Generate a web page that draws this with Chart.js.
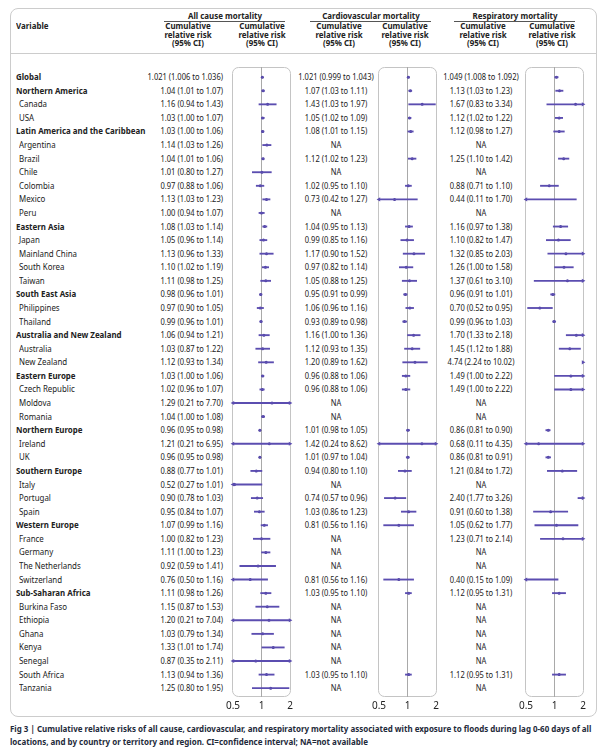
<!DOCTYPE html>
<html>
<head>
<meta charset="utf-8">
<script src="https://cdn.jsdelivr.net/npm/chart.js@4/dist/chart.umd.min.js"></script>
<style>
  body { margin: 0; background: #fff; }
  #page { position: relative; width: 602px; height: 749px; overflow: hidden;
          font-family: "Noto Sans", sans-serif; color: #222; }
  .abs { position: absolute; white-space: nowrap; }
  .row { font-size: 9.2px; line-height: 12px; height: 12px; }
  .hd { font-weight: bold; font-size: 9px; line-height: 8.6px; text-align: center;
        transform: scaleX(0.88); transform-origin: center; }
  .rule { position: absolute; height: 0; border-top: 1px solid #555; }
  canvas { position: absolute; }
</style>
</head>
<body>
<div id="page">
  <div class="abs" style="left:10px;top:8px;width:585px;height:707px;border:1px solid #ccc;border-radius:8px;"></div>
  <div class="abs" style="left:11px;top:53px;width:585px;height:0;border-top:1px solid #ccc;"></div>

  <div class="abs hd" style="left:16px;top:22px;text-align:left;transform-origin:left;">Variable</div>

  <div class="abs hd" style="left:164px;top:12px;width:122px;">All cause mortality</div>
  <div class="rule" style="left:164px;top:21px;width:121px;"></div>
  <div class="abs hd" style="left:310px;top:12px;width:122px;">Cardiovascular mortality</div>
  <div class="rule" style="left:310px;top:21px;width:121px;"></div>
  <div class="abs hd" style="left:454px;top:12px;width:122px;">Respiratory mortality</div>
  <div class="rule" style="left:454px;top:21px;width:121px;"></div>

  <div class="abs hd" style="left:148px;top:22px;width:80px;">Cumulative<br>relative risk<br>(95% CI)</div>
  <div class="abs hd" style="left:222px;top:22px;width:80px;">Cumulative<br>relative risk<br>(95% CI)</div>
  <div class="abs hd" style="left:299px;top:22px;width:80px;">Cumulative<br>relative risk<br>(95% CI)</div>
  <div class="abs hd" style="left:365px;top:22px;width:80px;">Cumulative<br>relative risk<br>(95% CI)</div>
  <div class="abs hd" style="left:443px;top:22px;width:80px;">Cumulative<br>relative risk<br>(95% CI)</div>
  <div class="abs hd" style="left:512px;top:22px;width:80px;">Cumulative<br>relative risk<br>(95% CI)</div>

  <div id="rows"></div>

  <canvas id="allCause"></canvas>
  <canvas id="cardio"></canvas>
  <canvas id="resp"></canvas>

  <div class="abs" style="left:10px;top:722px;font-size:9.6px;line-height:13px;font-weight:bold;color:#1e2a3a;transform:scaleX(0.83);transform-origin:left;">
    Fig 3 | Cumulative relative risks of all cause, cardiovascular, and respiratory mortality associated with exposure to floods during lag 0-60 days of all<br>
    locations, and by country or territory and region. CI=confidence interval; NA=not available
  </div>
</div>

<script>
const labels = ['Global', 'Northern America', 'Canada', 'USA', 'Latin America and the Caribbean',
  'Argentina', 'Brazil', 'Chile', 'Colombia', 'Mexico', 'Peru', 'Eastern Asia', 'Japan',
  'Mainland China', 'South Korea', 'Taiwan', 'South East Asia', 'Philippines', 'Thailand',
  'Australia and New Zealand', 'Australia', 'New Zealand', 'Eastern Europe', 'Czech Republic',
  'Moldova', 'Romania', 'Northern Europe', 'Ireland', 'UK', 'Southern Europe', 'Italy',
  'Portugal', 'Spain', 'Western Europe', 'France', 'Germany', 'The Netherlands', 'Switzerland',
  'Sub-Saharan Africa', 'Burkina Faso', 'Ethiopia', 'Ghana', 'Kenya', 'Senegal',
  'South Africa', 'Tanzania'];

const regionRows = ['Global', 'Northern America', 'Latin America and the Caribbean', 'Eastern Asia',
  'South East Asia', 'Australia and New Zealand', 'Eastern Europe', 'Northern Europe',
  'Southern Europe', 'Western Europe', 'Sub-Saharan Africa'];

// [estimate, lower, upper]; null = NA
const allCause = [
  [1.021, 1.006, 1.036], [1.04, 1.01, 1.07], [1.16, 0.94, 1.43], [1.03, 1.00, 1.07],
  [1.03, 1.00, 1.06], [1.14, 1.03, 1.26], [1.04, 1.01, 1.06], [1.01, 0.80, 1.27],
  [0.97, 0.88, 1.06], [1.13, 1.03, 1.23], [1.00, 0.94, 1.07], [1.08, 1.03, 1.14],
  [1.05, 0.96, 1.14], [1.13, 0.96, 1.33], [1.10, 1.02, 1.19], [1.11, 0.98, 1.25],
  [0.98, 0.96, 1.01], [0.97, 0.90, 1.05], [0.99, 0.96, 1.01], [1.06, 0.94, 1.21],
  [1.03, 0.87, 1.22], [1.12, 0.93, 1.34], [1.03, 1.00, 1.06], [1.02, 0.96, 1.07],
  [1.29, 0.21, 7.70], [1.04, 1.00, 1.08], [0.96, 0.95, 0.98], [1.21, 0.21, 6.95],
  [0.96, 0.95, 0.98], [0.88, 0.77, 1.01], [0.52, 0.27, 1.01], [0.90, 0.78, 1.03],
  [0.95, 0.84, 1.07], [1.07, 0.99, 1.16], [1.00, 0.82, 1.23], [1.11, 1.00, 1.23],
  [0.92, 0.59, 1.41], [0.76, 0.50, 1.16], [1.11, 0.98, 1.26], [1.15, 0.87, 1.53],
  [1.20, 0.21, 7.04], [1.03, 0.79, 1.34], [1.33, 1.01, 1.74], [0.87, 0.35, 2.11],
  [1.13, 0.94, 1.36], [1.25, 0.80, 1.95]
];

const cardio = [
  [1.021, 0.999, 1.043], [1.07, 1.03, 1.11], [1.43, 1.03, 1.97], [1.05, 1.02, 1.09],
  [1.08, 1.01, 1.15], null, [1.12, 1.02, 1.23], null,
  [1.02, 0.95, 1.10], [0.73, 0.42, 1.27], null, [1.04, 0.95, 1.13],
  [0.99, 0.85, 1.16], [1.17, 0.90, 1.52], [0.97, 0.82, 1.14], [1.05, 0.88, 1.25],
  [0.95, 0.91, 0.99], [1.06, 0.96, 1.16], [0.93, 0.89, 0.98], [1.16, 1.00, 1.36],
  [1.12, 0.93, 1.35], [1.20, 0.89, 1.62], [0.96, 0.88, 1.06], [0.96, 0.88, 1.06],
  null, null, [1.01, 0.98, 1.05], [1.42, 0.24, 8.62],
  [1.01, 0.97, 1.04], [0.94, 0.80, 1.10], null, [0.74, 0.57, 0.96],
  [1.03, 0.86, 1.23], [0.81, 0.56, 1.16], null, null,
  null, [0.81, 0.56, 1.16], [1.03, 0.95, 1.10], null,
  null, null, null, null,
  [1.03, 0.95, 1.10], null
];

const resp = [
  [1.049, 1.008, 1.092], [1.13, 1.03, 1.23], [1.67, 0.83, 3.34], [1.12, 1.02, 1.22],
  [1.12, 0.98, 1.27], null, [1.25, 1.10, 1.42], null,
  [0.88, 0.71, 1.10], [0.44, 0.11, 1.70], null, [1.16, 0.97, 1.38],
  [1.10, 0.82, 1.47], [1.32, 0.85, 2.03], [1.26, 1.00, 1.58], [1.37, 0.61, 3.10],
  [0.96, 0.91, 1.01], [0.70, 0.52, 0.95], [0.99, 0.96, 1.03], [1.70, 1.33, 2.18],
  [1.45, 1.12, 1.88], [4.74, 2.24, 10.02], [1.49, 1.00, 2.22], [1.49, 1.00, 2.22],
  null, null, [0.86, 0.81, 0.90], [0.68, 0.11, 4.35],
  [0.86, 0.81, 0.91], [1.21, 0.84, 1.72], null, [2.40, 1.77, 3.26],
  [0.91, 0.60, 1.38], [1.05, 0.62, 1.77], [1.23, 0.71, 2.14], null,
  null, [0.40, 0.15, 1.09], [1.12, 0.95, 1.31], null,
  null, null, null, null,
  [1.12, 0.95, 1.31], null
];

const xTicks = [0.5, 1, 2];
const purple = '#5b4db0';

// panel box round the chart area
const panelBox = {
  id: 'panelBox',
  beforeDraw(chart) {
    const { ctx, chartArea: a } = chart;
    ctx.save();
    ctx.strokeStyle = '#c4c4c4';
    ctx.lineWidth = 1;
    ctx.beginPath();
    ctx.roundRect(a.left - 0.5, a.top + 0.5, a.right - a.left + 1, a.bottom - a.top - 1, 6);
    ctx.stroke();
    ctx.restore();
  }
};

function makePanel(id, rows, left) {
  const el = document.getElementById(id);
  el.style.left = (left - 14) + 'px';
  el.style.top = '63px';
  el.width = 57 + 28;
  el.height = 652;

  const ci = [], est = [], rightArrow = [], leftArrow = [];
  rows.forEach((r, i) => {
    if (!r) return;
    ci.push({ x: [r[1], r[2]], y: i });
    est.push({ x: r[0], y: i });
    if (r[2] > 2) rightArrow.push({ x: 2, y: i });
    if (r[1] <= 0.5) leftArrow.push({ x: 0.5, y: i });
  });

  return new Chart(el, {
    type: 'bar',
    data: {
      datasets: [
        { type: 'bar', indexAxis: 'y', data: ci, backgroundColor: purple,
          barThickness: 1.2, maxBarThickness: 1.2, borderWidth: 0 },
        { type: 'scatter', data: est, pointRadius: 1.5, pointBackgroundColor: '#4a3d9e', pointBorderWidth: 0 },
        { type: 'scatter', data: rightArrow, pointStyle: 'triangle', rotation: 90, pointRadius: 2.4,
          pointBackgroundColor: purple, pointBorderWidth: 0, clip: false },
        { type: 'scatter', data: leftArrow, pointStyle: 'triangle', rotation: -90, pointRadius: 2.4,
          pointBackgroundColor: purple, pointBorderWidth: 0, clip: false }
      ]
    },
    options: {
      responsive: false,
      animation: false,
      layout: { padding: { left: 14, right: 14, top: 2, bottom: 0 } },
      plugins: { legend: { display: false }, tooltip: { enabled: false } },
      scales: {
        x: {
          type: 'logarithmic', min: 0.5, max: 2, offset: false,
          afterBuildTicks: s => { s.ticks = xTicks.map(v => ({ value: v })); },
          grid: { drawTicks: false, lineWidth: 1, offset: false,
                  color: c => (c.tick && c.tick.value === 1) ? '#a9a9a9' : 'rgba(0,0,0,0)' },
          border: { display: false },
          ticks: { padding: 3, color: '#222', font: { family: 'Noto Sans', size: 10 },
                   callback: v => String(v), autoSkip: false, maxRotation: 0 }
        },
        y: { type: 'linear', min: -0.75, max: 45.65, reverse: true, display: false,
             offset: false, grace: 0, grid: { offset: false } }
      }
    },
    plugins: [panelBox]
  });
}

const c1 = makePanel('allCause', allCause, 233);
makePanel('cardio', cardio, 379);
makePanel('resp', resp, 526);

function fmt(r, i) {
  if (!r) return 'NA';
  const d = i === 0 ? 3 : 2;
  return r[0].toFixed(d) + ' (' + r[1].toFixed(d) + ' to ' + r[2].toFixed(d) + ')';
}

// text rows placed on the same y scale as the plots
const holder = document.getElementById('rows');
const yScale = c1.scales.y;
labels.forEach((name, i) => {
  const top = 63 + yScale.getPixelForValue(i) - 6;
  const region = regionRows.includes(name);
  const cells = [
    { t: name, s: `left:${region ? 16 : 19}px;font-weight:${region ? 'bold' : 'normal'};transform:scaleX(0.86);transform-origin:left;` },
    { t: fmt(allCause[i], i), s: 'left:100px;width:123px;text-align:right;transform:scaleX(0.82);transform-origin:right;' },
    { t: fmt(cardio[i], i), s: 'left:286px;width:100px;text-align:center;transform:scaleX(0.82);transform-origin:center;' },
    { t: fmt(resp[i], i), s: 'left:431px;width:100px;text-align:center;transform:scaleX(0.82);transform-origin:center;' }
  ];
  cells.forEach(c => {
    const d = document.createElement('div');
    d.className = 'abs row';
    d.style.cssText += c.s + `top:${top}px;`;
    d.textContent = c.t;
    holder.appendChild(d);
  });
});
</script>
</body>
</html>
